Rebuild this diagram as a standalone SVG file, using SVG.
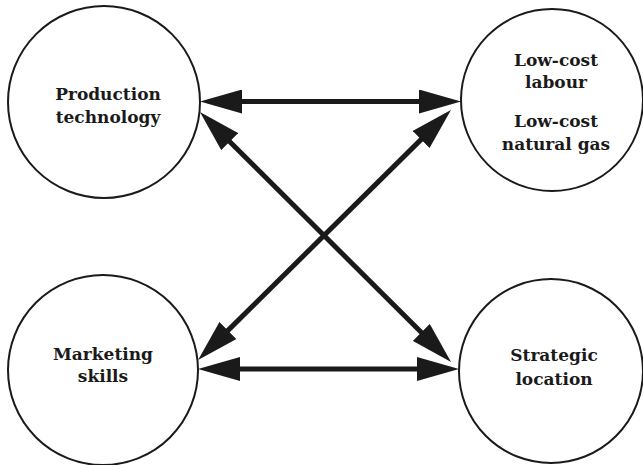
<svg xmlns="http://www.w3.org/2000/svg" width="643" height="465" viewBox="0 0 643 465">
<style>
.node circle{fill:#fff;stroke:#1a1a1a;stroke-width:2}
.node text{font-family:"DejaVu Serif","Liberation Serif",serif;font-weight:bold;font-size:17px;fill:#1a1a1a;text-anchor:middle}
.conn line{stroke:#1a1a1a;stroke-width:5}
</style>
<defs>
<marker id="ah" viewBox="0 -12 42 24" refX="2" refY="0" markerWidth="42" markerHeight="24" markerUnits="userSpaceOnUse" orient="auto-start-reverse">
<path d="M0,-12 L42,0 L0,12 z" fill="#1a1a1a"/>
</marker>
</defs>
<rect width="643" height="465" fill="#fff"/>
<g id="production" class="node">
<circle cx="104" cy="102" r="96"/>
<text x="108" y="100">Production</text>
<text x="108" y="123">technology</text>
</g>
<g id="lowcost" class="node">
<circle cx="552" cy="100" r="91"/>
<text x="556" y="66">Low-cost</text>
<text x="556" y="88">labour</text>
<text x="556" y="127">Low-cost</text>
<text x="556" y="150">natural gas</text>
</g>
<g id="marketing" class="node">
<circle cx="103" cy="370" r="95"/>
<text x="103" y="360">Marketing</text>
<text x="103" y="382">skills</text>
</g>
<g id="strategic" class="node">
<circle cx="551" cy="371" r="92"/>
<text x="554" y="361">Strategic</text>
<text x="554" y="385">location</text>
</g>
<g id="connectors" class="conn">
<line x1="240" y1="101.5" x2="421" y2="101.5" marker-start="url(#ah)" marker-end="url(#ah)"/>
<line x1="238" y1="369" x2="419" y2="369" marker-start="url(#ah)" marker-end="url(#ah)"/>
<line x1="228.3" y1="140.2" x2="422.7" y2="333.8" marker-start="url(#ah)" marker-end="url(#ah)"/>
<line x1="226.5" y1="331.9" x2="422.5" y2="138.1" marker-start="url(#ah)" marker-end="url(#ah)"/>
</g>
</svg>
